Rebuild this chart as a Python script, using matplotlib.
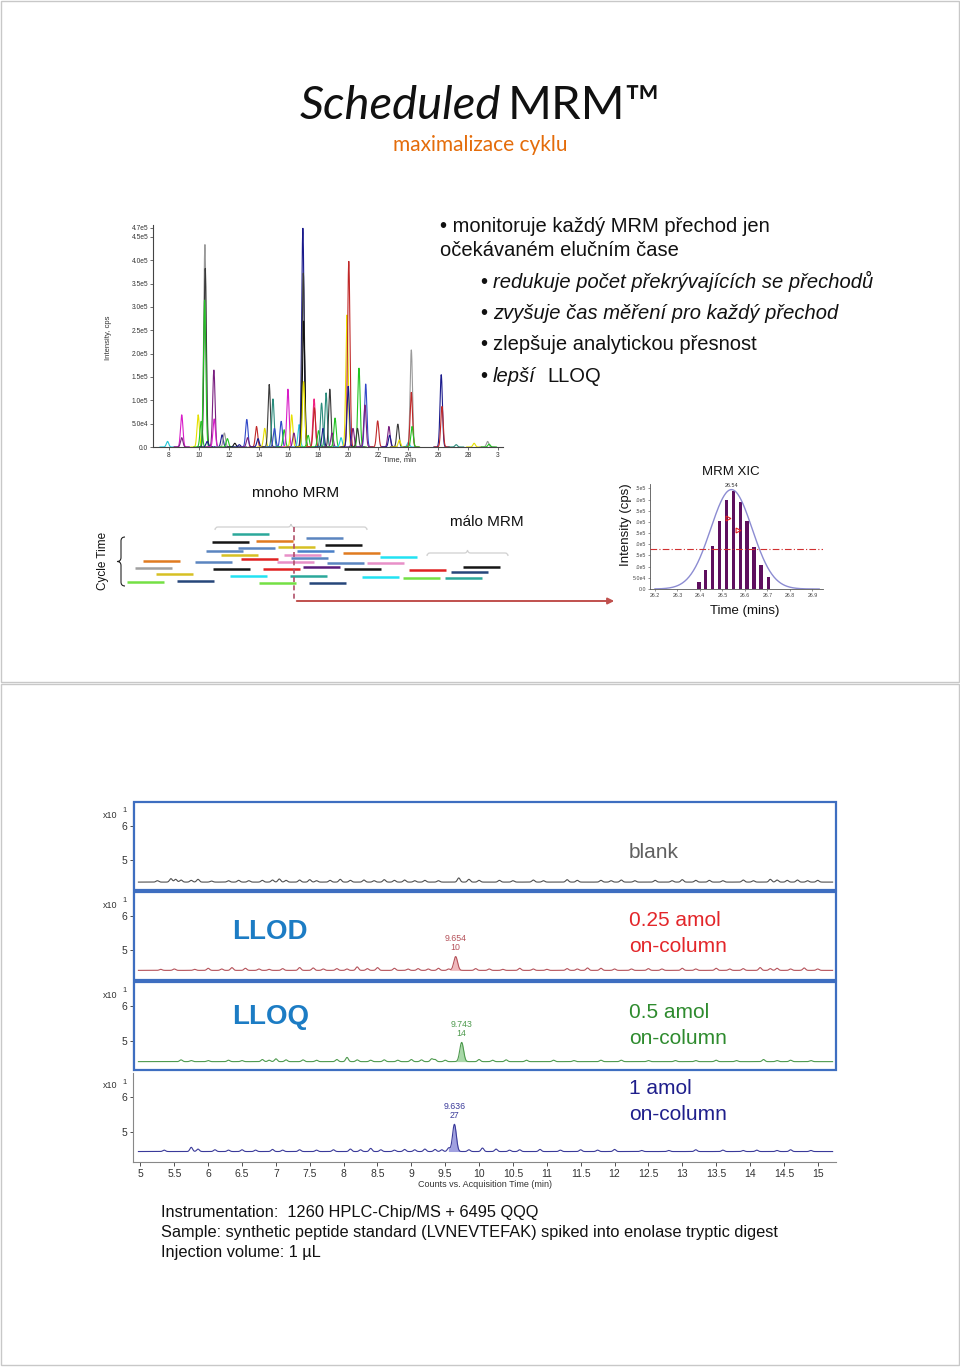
import numpy as np
import matplotlib
matplotlib.use('Agg')
import matplotlib.pyplot as plt
from matplotlib.patches import Rectangle, PathPatch
from matplotlib.path import Path

plt.rcParams['font.family'] = ['Liberation Sans', 'DejaVu Sans']

W, H = 960, 1367

# ---------------- data: overview chromatogram ----------------
chrom_t = [7.9, 8.85, 8.85, 9.95, 10.15, 10.4, 10.42, 10.38, 10.55, 11.0, 11.02, 11.55, 11.7, 11.9,
           12.4, 12.7, 13.2, 13.25, 13.85, 13.95, 14.4, 14.7, 14.95, 15.05, 15.5, 15.7, 15.95, 16.2,
           16.35, 16.7, 16.95, 16.98, 17.0, 17.0, 17.3, 17.7, 17.72, 18.0, 18.2, 18.3, 18.5, 18.75,
           18.9, 19.1, 19.5, 19.9, 20.02, 19.98, 20.3, 20.7, 20.6, 21.15, 21.1, 21.95, 22.7, 22.75,
           23.3, 23.4, 24.0, 24.2, 24.2, 24.25, 26.2, 26.25, 27.2, 28.4, 29.3, 29.4]
chrom_h = [12, 69, 20, 69, 55, 434, 383, 315, 12, 165, 60, 26, 30, 18,
           8, 5, 59, 20, 44, 18, 40, 134, 103, 40, 55, 37, 124, 69,
           30, 48, 469, 373, 270, 140, 25, 103, 84, 35, 94, 40, 116, 124,
           30, 62, 20, 283, 398, 130, 40, 169, 40, 135, 90, 56, 44, 25,
           49, 15, 10, 208, 117, 44, 155, 87, 5, 8, 12, 6]
chrom_c = ['c', 'm', 'pu', 'y', 'g', 'gr', 'dk', 'g', 'nv', 'pu', 'm', 'nv', 'gr', 'g',
           'bk', 'nv', 'bl', 'pu', 'r', 'nv', 'y', 'dk', 'tl', 'bl', 'bl', 'g', 'm', 'y',
           'pu', 'c', 'nv', 'dk', 'bk', 'y', 'g', 'pk', 'r', 'g', 'tl', 'nv', 'tl', 'dk',
           'pu', 'g', 'c', 'y', 'r', 'nv', 'pu', 'g', 'dk', 'bl', 'pu', 'r', 'pu', 'nv',
           'dk', 'y', 'c', 'gr', 'r', 'g', 'nv', 'r', 'tl', 'y', 'gr', 'g']
chrom_palette = {'c': '#22C8D8', 'm': '#D81CC8', 'pu': '#7A2080', 'y': '#E6E000', 'g': '#22C422',
                 'gr': '#9A9A9A', 'dk': '#3A3A3A', 'nv': '#1A1A8C', 'bk': '#101010', 'bl': '#3048C8',
                 'r': '#C02828', 'tl': '#2A8C7C', 'pk': '#F02080'}
chrom_xticks = [8, 10, 12, 14, 16, 18, 20, 22, 24, 26, 28, 30]
chrom_xlabels = ['8', '10', '12', '14', '16', '18', '20', '22', '24', '26', '28', '3']
chrom_yticks = [0, 5e4, 1e5, 1.5e5, 2e5, 2.5e5, 3e5, 3.5e5, 4e5, 4.5e5, 4.7e5]
chrom_ylabels = ['0.0', '5.0e4', '1.0e5', '1.5e5', '2.0e5', '2.5e5', '3.0e5', '3.5e5', '4.0e5', '4.5e5', '4.7e5']

# ---------------- data: cycle-time schematic ----------------
seg_start = [142, 122, 166, 148, 188, 216, 235, 116, 207, 253, 131, 194, 290, 151, 201, 53, 105, 187,
             237, 277, 213, 45, 123, 173, 254, 319, 373, 361, 66, 140, 200, 272, 313, 355, 37, 87, 169, 219]
seg_level = [54, 62, 61, 68, 67, 58, 65, 71, 71, 73, 75, 75, 77, 79, 78, 81, 82, 82,
             83, 83, 87, 88, 89, 89, 89, 90, 87, 92, 94, 96, 96, 97, 98, 98, 102, 101, 103, 103]
seg_color = ['teal', 'black', 'orange', 'steel', 'yellow', 'steel', 'black', 'steel', 'blue', 'orange',
             'yellow', 'pink', 'cyan', 'red', 'steel', 'orange', 'steel', 'pink', 'steel', 'pink',
             'purple', 'gray', 'black', 'red', 'black', 'red', 'black', 'navy', 'yellow', 'cyan',
             'teal', 'cyan', 'green', 'teal', 'green', 'navy', 'green', 'navy']
seg_palette = {'teal': '#2BA89A', 'black': '#151515', 'orange': '#E07B20', 'steel': '#5B85C0',
               'yellow': '#D6C024', 'blue': '#4A80C8', 'pink': '#E890C8', 'cyan': '#22E2F2',
               'red': '#E02222', 'gray': '#A0A0A0', 'purple': '#5A1A7A', 'navy': '#26467A',
               'green': '#74E044'}
seg_len = 37

# ---------------- data: MRM XIC ----------------
xic_bar_t = [26.396, 26.425, 26.456, 26.486, 26.519, 26.548, 26.581, 26.610, 26.641, 26.671, 26.704]
xic_bar_h = [30e3, 84e3, 191e3, 306e3, 397e3, 437e3, 391e3, 303e3, 188e3, 109e3, 54e3]
xic_apex_t, xic_apex_h, xic_sigma = 26.54, 445e3, 0.092
xic_threshold = 179e3
xic_xticks = [26.2, 26.3, 26.4, 26.5, 26.6, 26.7, 26.8, 26.9]
xic_yticks = [0, 5e4, 1e5, 1.5e5, 2e5, 2.5e5, 3e5, 3.5e5, 4e5, 4.5e5]
xic_ylabels = ['0.0', '5.0e4', '.0e5', '.5e5', '.0e5', '.5e5', '.0e5', '.5e5', '.0e5', '.5e5']
xic_mark_t = [26.526, 26.567]
xic_mark_h = [318e3, 266e3]

# ---------------- data: sensitivity panels ----------------
panel_base = [4.37, 4.42, 4.41, 4.43]
panel_peak_t = [None, 9.654, 9.743, 9.636]
panel_peak_h = [0.0, 0.40, 0.55, 0.78]
panel_peak_lbl = [None, '9.654\n10', '9.743\n14', '9.636\n27']
noise_t = [
    [5.25, 5.45, 5.52, 5.6, 5.75, 5.85, 6.05, 6.3, 6.45, 6.6, 6.8, 6.95, 7.05, 7.15, 7.35, 7.5, 7.6,
     7.8, 7.95, 8.1, 8.3, 8.45, 8.6, 8.75, 8.9, 9.05, 9.2, 9.4, 9.7, 9.85, 10.0, 10.3, 10.5, 10.8,
     10.95, 11.3, 11.45, 11.8, 11.95, 12.1, 12.3, 12.6, 12.85, 13.0, 13.2, 13.4, 13.6, 13.9, 14.05,
     14.3, 14.4, 14.55, 14.7, 14.85, 15.0],
    [5.3, 5.5, 5.8, 6.0, 6.2, 6.35, 6.55, 6.75, 6.9, 7.1, 7.35, 7.55, 7.7, 7.9, 8.05, 8.2, 8.35, 8.5,
     8.75, 8.95, 9.1, 9.25, 9.4, 9.55, 9.95, 10.15, 10.35, 10.6, 10.8, 11.0, 11.3, 11.45, 11.6, 11.8,
     12.0, 12.25, 12.5, 12.7, 13.0, 13.2, 13.5, 13.7, 13.9, 14.15, 14.3, 14.4, 14.6, 14.8, 15.0],
    [5.6, 5.75, 6.0, 6.3, 6.5, 6.8, 6.9, 7.0, 7.15, 7.4, 7.6, 7.9, 8.05, 8.2, 8.4, 8.6, 8.8, 9.0,
     9.15, 9.3, 9.35, 9.5, 10.0, 10.2, 10.4, 10.7, 11.1, 11.4, 11.8, 12.1, 12.5, 12.9, 13.2, 13.5,
     13.8, 14.2, 14.4, 14.6, 14.9],
    [5.35, 5.75, 5.85, 6.1, 6.3, 6.5, 6.7, 6.95, 7.1, 7.35, 7.6, 7.85, 8.1, 8.25, 8.4, 8.55, 8.75,
     8.9, 9.05, 9.2, 9.35, 9.45, 9.55, 9.85, 10.05, 10.25, 10.45, 10.6, 10.9, 11.2, 11.5, 11.75,
     12.0, 12.4, 12.8, 13.2, 13.6, 13.9, 14.1, 14.4, 14.6, 14.9],
]
noise_h = [
    [0.04, 0.10, 0.08, 0.06, 0.05, 0.08, 0.03, 0.04, 0.05, 0.04, 0.05, 0.06, 0.09, 0.05, 0.06, 0.07, 0.04,
     0.05, 0.08, 0.05, 0.06, 0.04, 0.07, 0.05, 0.06, 0.04, 0.05, 0.04, 0.12, 0.08, 0.05, 0.05, 0.04, 0.06,
     0.04, 0.07, 0.05, 0.05, 0.04, 0.06, 0.04, 0.05, 0.04, 0.07, 0.05, 0.05, 0.04, 0.06, 0.04,
     0.08, 0.06, 0.05, 0.06, 0.04, 0.05],
    [0.03, 0.04, 0.03, 0.06, 0.04, 0.08, 0.06, 0.04, 0.03, 0.05, 0.08, 0.07, 0.04, 0.05, 0.04, 0.10, 0.05, 0.08,
     0.06, 0.04, 0.05, 0.04, 0.06, 0.04, 0.05, 0.04, 0.03, 0.06, 0.04, 0.03, 0.05, 0.04, 0.07, 0.06,
     0.04, 0.04, 0.05, 0.04, 0.06, 0.04, 0.06, 0.04, 0.05, 0.08, 0.05, 0.06, 0.04, 0.07, 0.04],
    [0.05, 0.03, 0.03, 0.04, 0.03, 0.06, 0.04, 0.08, 0.05, 0.05, 0.04, 0.06, 0.12, 0.05, 0.04, 0.05, 0.04, 0.06,
     0.05, 0.08, 0.06, 0.04, 0.06, 0.04, 0.05, 0.04, 0.04, 0.03, 0.04, 0.04, 0.03, 0.03, 0.03, 0.04,
     0.03, 0.06, 0.03, 0.04, 0.03],
    [0.04, 0.12, 0.07, 0.05, 0.04, 0.05, 0.04, 0.06, 0.04, 0.05, 0.04, 0.05, 0.07, 0.05, 0.09, 0.05, 0.04,
     0.06, 0.05, 0.07, 0.06, 0.05, 0.10, 0.05, 0.10, 0.07, 0.04, 0.05, 0.06, 0.04, 0.05, 0.04,
     0.06, 0.03, 0.03, 0.05, 0.04, 0.03, 0.04, 0.03, 0.05, 0.03],
]
panel_line = ['#505050', '#B5525A', '#4E9A4E', '#3A3A9A']
panel_fill = ['#D0D0D0', '#F0B8BC', '#A8D8A8', '#A0A0E0']
panel_xticks = [5, 5.5, 6, 6.5, 7, 7.5, 8, 8.5, 9, 9.5, 10, 10.5, 11, 11.5, 12, 12.5, 13, 13.5, 14, 14.5, 15]

# ---------------- figure ----------------
fig = plt.figure(figsize=(W / 100, H / 100), dpi=100)


def pax(x0, y0, x1, y1):
    return fig.add_axes([x0 / W, 1 - y1 / H, (x1 - x0) / W, (y1 - y0) / H])


# overview chromatogram
ax = pax(153, 225, 503, 447)
ax.set_facecolor('none')
for t0, h0, c0 in zip(chrom_t, chrom_h, chrom_c):
    tt = np.linspace(t0 - 0.5, t0 + 0.5, 150)
    ax.plot(tt, h0 * 1e3 * np.exp(-0.5 * ((tt - t0) / 0.08) ** 2), color=chrom_palette[c0], lw=0.8)
ax.set_xlim(6.93, 30.33)
ax.set_ylim(0, 4.757e5)
ax.set_xticks(chrom_xticks)
ax.set_xticklabels(chrom_xlabels)
ax.set_yticks(chrom_yticks)
ax.set_yticklabels(chrom_ylabels)
ax.tick_params(labelsize=4.8, colors='#333333', length=2, width=0.5, pad=1.5)
for s in ['top', 'right']:
    ax.spines[s].set_visible(False)
for s in ['left', 'bottom']:
    ax.spines[s].set_color('#444444')
    ax.spines[s].set_linewidth(0.8)

# cycle schematic
sx = pax(90, 480, 620, 610)
sx.set_xlim(0, 530)
sx.set_ylim(130, 0)
sx.axis('off')
for s0, lv, c0 in zip(seg_start, seg_level, seg_color):
    sx.plot([s0, s0 + seg_len], [lv, lv], color=seg_palette[c0], lw=1.8, solid_capstyle='butt')

# MRM XIC
xa = pax(650, 484, 823, 589)
xa.set_facecolor('none')
xa.bar(xic_bar_t, xic_bar_h, width=0.015, color='#5E0F5E', zorder=2)
tt = np.linspace(26.2, 26.93, 300)
xa.plot(tt, xic_apex_h * np.exp(-0.5 * ((tt - xic_apex_t) / xic_sigma) ** 2), color='#8C8CD2', lw=1.0, zorder=3)
xa.axhline(xic_threshold, color='#D03030', lw=0.8, ls=(0, (6, 2, 1, 2)), zorder=4)
xa.plot(xic_mark_t, xic_mark_h, ls='none', marker='>', ms=3.5, mfc='none', mec='#E02020', mew=0.8, zorder=5)
xa.text(xic_apex_t, xic_apex_h + 8e3, '26.54', fontsize=4, ha='center', va='bottom', color='#333333')
xa.set_xlim(26.178, 26.947)
xa.set_ylim(0, 4.7e5)
xa.set_xticks(xic_xticks)
xa.set_xticklabels([f'{v:.1f}' for v in xic_xticks])
xa.set_yticks(xic_yticks)
xa.set_yticklabels(xic_ylabels)
xa.tick_params(labelsize=3.8, colors='#444444', length=1.5, width=0.4, pad=1.2)
for s in ['top', 'right']:
    xa.spines[s].set_visible(False)
for s in ['left', 'bottom']:
    xa.spines[s].set_color('#555555')
    xa.spines[s].set_linewidth(0.6)

# sensitivity panels
panel_box = [(802, 889), (892, 979), (982, 1070), (1073, 1162)]
panel_ylim = [(4.17, 6.69), (4.17, 6.69), (4.17, 6.69), (4.13, 6.68)]
tt = np.linspace(4.97, 15.22, 3000)
for i in range(4):
    y0, y1 = panel_box[i]
    pa = pax(133, y0, 836, y1)
    pa.set_facecolor('none')
    yy = np.full_like(tt, panel_base[i])
    for nt, nh in zip(noise_t[i], noise_h[i]):
        yy = yy + nh * np.exp(-0.5 * ((tt - nt) / 0.02) ** 2)
    if panel_peak_t[i] is not None:
        pk = panel_peak_h[i] * np.exp(-0.5 * ((tt - panel_peak_t[i]) / 0.028) ** 2)
        yy = yy + pk
        m = np.abs(tt - panel_peak_t[i]) < 0.09
        pa.fill_between(tt[m], panel_base[i], yy[m], color=panel_fill[i], lw=0)
        pa.text(panel_peak_t[i], panel_base[i] + panel_peak_h[i] + 0.12, panel_peak_lbl[i],
                fontsize=6.3, ha='center', va='bottom', color=panel_line[i], linespacing=1.0)
    pa.plot(tt, yy, color=panel_line[i], lw=0.8)
    pa.set_xlim(4.89, 15.27)
    pa.set_ylim(*panel_ylim[i])
    pa.set_yticks([5, 6])
    pa.set_yticklabels(['5', '6'])
    pa.tick_params(axis='y', labelsize=7.5, colors='#333333', length=2.5, width=0.6, pad=1.5)
    for s in ['top', 'right']:
        pa.spines[s].set_visible(False)
    pa.spines['left'].set_color('#888888')
    pa.spines['left'].set_linewidth(0.8)
    if i < 3:
        pa.spines['bottom'].set_visible(False)
        pa.set_xticks([])
    else:
        pa.spines['bottom'].set_color('#888888')
        pa.spines['bottom'].set_linewidth(0.8)
        pa.set_xticks(panel_xticks)
        pa.set_xticklabels([f'{v:g}' for v in panel_xticks])
        pa.tick_params(axis='x', labelsize=7.5, colors='#333333', length=3, width=0.6, pad=2)
        pa.set_xlabel('Counts vs. Acquisition Time (min)', fontsize=6.5, color='#333333', labelpad=1)

# ---------------- overlay: texts and decorations ----------------
ov = fig.add_axes([0, 0, 1, 1])
ov.set_xlim(0, W)
ov.set_ylim(H, 0)
ov.axis('off')

# page frames
ov.add_patch(Rectangle((1, 1), W - 2, 681, fill=False, ec='#C8C8C8', lw=1))
ov.add_patch(Rectangle((1, 684), W - 2, H - 686, fill=False, ec='#C8C8C8', lw=1))

# title
ov.text(501, 119, 'Scheduled', fontsize=34, style='italic', family='Lato', ha='right', va='baseline', color='#111111')
ov.text(508, 119, 'MRM\u2122', fontsize=34, family='Lato', ha='left', va='baseline', color='#111111')
ov.text(480, 151, 'maximalizace cyklu', fontsize=15, family='Lato', ha='center', va='baseline', color='#E46C0A')

# bullets
bfs = 14.5
ov.text(440, 232, '\u2022 monitoruje každý MRM přechod jen', fontsize=bfs, va='baseline', color='#111111')
ov.text(440, 256, 'očekávaném elučním čase', fontsize=bfs, va='baseline', color='#111111')
sub_y = [288, 319, 350, 382]
for y in sub_y:
    ov.text(480, y, '\u2022', fontsize=bfs, va='baseline', color='#111111')
ov.text(493, 288, 'redukuje počet překrývajících se přechodů', fontsize=bfs, style='italic', va='baseline', color='#111111')
ov.text(493, 319, 'zvyšuje čas měření pro každý přechod', fontsize=bfs, style='italic', va='baseline', color='#111111')
ov.text(493, 350, 'zlepšuje analytickou přesnost', fontsize=bfs, va='baseline', color='#111111')
ov.text(493, 382, 'lepší', fontsize=bfs, style='italic', va='baseline', color='#111111')
ov.text(547, 382, 'LLOQ', fontsize=bfs, va='baseline', color='#111111')

# chromatogram axis labels
ov.text(108, 338, 'Intensity, cps', fontsize=5.5, rotation=90, ha='center', va='center', color='#333333')
ov.text(400, 460, 'Time, min', fontsize=5.5, ha='center', va='center', color='#333333')

# schematic labels
ov.text(296, 493, 'mnoho MRM', fontsize=11, ha='center', va='center', color='#111111')
ov.text(487, 522, 'málo MRM', fontsize=11, ha='center', va='center', color='#111111')
ov.text(103, 561, 'Cycle Time', fontsize=8.5, rotation=90, ha='center', va='center', color='#111111')


def hbrace(x0, x1, y, depth, color, lw):
    xm = (x0 + x1) / 2
    d = depth
    verts = [(x0, y + d), (x0, y), (x0 + d, y), (xm - d, y), (xm, y), (xm, y - d),
             (xm, y), (xm + d, y), (x1 - d, y), (x1, y), (x1, y + d)]
    codes = [Path.MOVETO, Path.CURVE3, Path.CURVE3, Path.LINETO, Path.CURVE3, Path.CURVE3,
             Path.CURVE3, Path.CURVE3, Path.LINETO, Path.CURVE3, Path.CURVE3]
    ov.add_patch(PathPatch(Path(verts, codes), fill=False, ec=color, lw=lw))


def vbrace(x, y0, y1, depth, color, lw):
    ym = (y0 + y1) / 2
    d = depth
    verts = [(x + d, y0), (x, y0), (x, y0 + d), (x, ym - d), (x, ym), (x - d, ym),
             (x, ym), (x, ym + d), (x, y1 - d), (x, y1), (x + d, y1)]
    codes = [Path.MOVETO, Path.CURVE3, Path.CURVE3, Path.LINETO, Path.CURVE3, Path.CURVE3,
             Path.CURVE3, Path.CURVE3, Path.LINETO, Path.CURVE3, Path.CURVE3]
    ov.add_patch(PathPatch(Path(verts, codes), fill=False, ec=color, lw=lw))


vbrace(121, 537, 586, 4, '#222222', 0.8)
hbrace(215, 367, 527, 3, '#D0D0D0', 0.9)
hbrace(427, 508, 553, 3, '#D0D0D0', 0.9)
ov.plot([294, 294], [527, 601], color='#B0506A', lw=1.2, ls=(0, (3, 2)))
ov.annotate('', xy=(617, 601), xytext=(294, 601),
            arrowprops=dict(arrowstyle='-|>', color='#C0504D', lw=1.4, mutation_scale=9))

# XIC labels
ov.text(731, 472, 'MRM XIC', fontsize=9.5, ha='center', va='center', color='#111111')
ov.text(626, 525, 'Intensity (cps)', fontsize=9.5, rotation=90, ha='center', va='center', color='#111111')
ov.text(745, 611, 'Time (mins)', fontsize=9.5, ha='center', va='center', color='#111111')

# panel frames and labels
frames = [(802, 889.5), (892, 979.5), (982, 1070)]
for y0, y1 in frames:
    ov.add_patch(Rectangle((134, y0), 836 - 134, y1 - y0, fill=False, ec='#3E6EC0', lw=1.6))
for i in range(4):
    y0 = panel_box[i][0]
    ov.text(103, y0 + 13, 'x10', fontsize=6.5, ha='left', va='center', color='#333333')
    ov.text(122, y0 + 9, '1', fontsize=5.5, ha='left', va='center', color='#333333')

ov.text(629, 852, 'blank', fontsize=15, ha='left', va='center', color='#606060')
ov.text(232, 932, 'LLOD', fontsize=20, weight='bold', ha='left', va='center', color='#1C7CC4')
ov.text(232, 1017, 'LLOQ', fontsize=20, weight='bold', ha='left', va='center', color='#1C7CC4')
ov.text(629, 921, '0.25 amol', fontsize=15, ha='left', va='center', color='#E3262A')
ov.text(629, 946, 'on-column', fontsize=15, ha='left', va='center', color='#E3262A')
ov.text(629, 1013, '0.5 amol', fontsize=15, ha='left', va='center', color='#2E8B2E')
ov.text(629, 1039, 'on-column', fontsize=15, ha='left', va='center', color='#2E8B2E')
ov.text(629, 1089, '1 amol', fontsize=15, ha='left', va='center', color='#1F1F8C')
ov.text(629, 1115, 'on-column', fontsize=15, ha='left', va='center', color='#1F1F8C')

# footer text
ffs = 11.75
ov.text(161, 1213, 'Instrumentation:  1260 HPLC-Chip/MS + 6495 QQQ', fontsize=ffs, va='center', color='#111111')
ov.text(161, 1233, 'Sample: synthetic peptide standard (LVNEVTEFAK) spiked into enolase tryptic digest',
        fontsize=ffs, va='center', color='#111111')
ov.text(161, 1253, 'Injection volume: 1 µL', fontsize=ffs, va='center', color='#111111')

fig.savefig('out.png', dpi=100)
